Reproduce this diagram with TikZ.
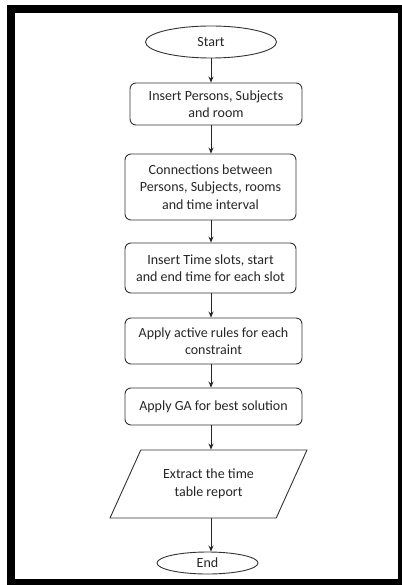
\documentclass[tikz,border=0pt]{standalone}
\usepackage{fontspec}
\setmainfont{Carlito}
\usetikzlibrary{shapes.geometric,arrows.meta}
\begin{document}
\begin{tikzpicture}[x=1pt,y=-1pt,
  every node/.style={font=\fontsize{14}{17.5}\selectfont, text=black!85, align=center, inner sep=0pt},
  flowbox/.style={draw=black!80, line width=0.9pt, rounded corners=6pt, rectangle},
  term/.style={draw=black!80, line width=0.9pt, ellipse},
  io/.style={draw=black!80, line width=0.9pt, trapezium, trapezium left angle=55, trapezium right angle=125, trapezium stretches=true},
  arr/.style={draw=black!85, line width=0.9pt, -{Stealth[length=6pt,width=5pt]}}]
\useasboundingbox (0,0) rectangle (401,585);
\fill[white] (0,0) rectangle (401,585);
\draw[line width=8pt] (11,9) rectangle (402,583);
\node[term, minimum width=131, minimum height=32] (start) at (211,42) {Start};
\node[flowbox, minimum width=172, minimum height=42] (b1) at (216,104) {Insert Persons, Subjects\\and room};
\node[flowbox, minimum width=171, minimum height=66] (b2) at (210.5,187) {Connections between\\Persons, Subjects, rooms\\and time interval};
\node[flowbox, minimum width=171, minimum height=50] (b3) at (210.5,268) {Insert Time slots, start\\and end time for each slot};
\node[flowbox, minimum width=177, minimum height=46] (b4) at (213.5,341) {Apply active rules for each\\constraint};
\node[flowbox, minimum width=177, minimum height=37] (b5) at (213.5,406.5) {Apply GA for best solution};
\node[io, minimum width=197, minimum height=68] (rep) at (208.5,484) {Extract the time\\table report};
\node[term, minimum width=101, minimum height=22] (end) at (207.5,563) {End};
\draw[arr] (start.south) -- (start.south |- b1.north);
\draw[arr] (b1.south -| start) -- (b2.north -| start);
\draw[arr] (b2.south -| start) -- (b3.north -| start);
\draw[arr] (b3.south -| start) -- (b4.north -| start);
\draw[arr] (b4.south -| start) -- (b5.north -| start);
\draw[arr] (b5.south -| start) -- (rep.north -| start);
\draw[arr] (rep.south -| start) -- (end.north -| start);
\end{tikzpicture}
\end{document}
